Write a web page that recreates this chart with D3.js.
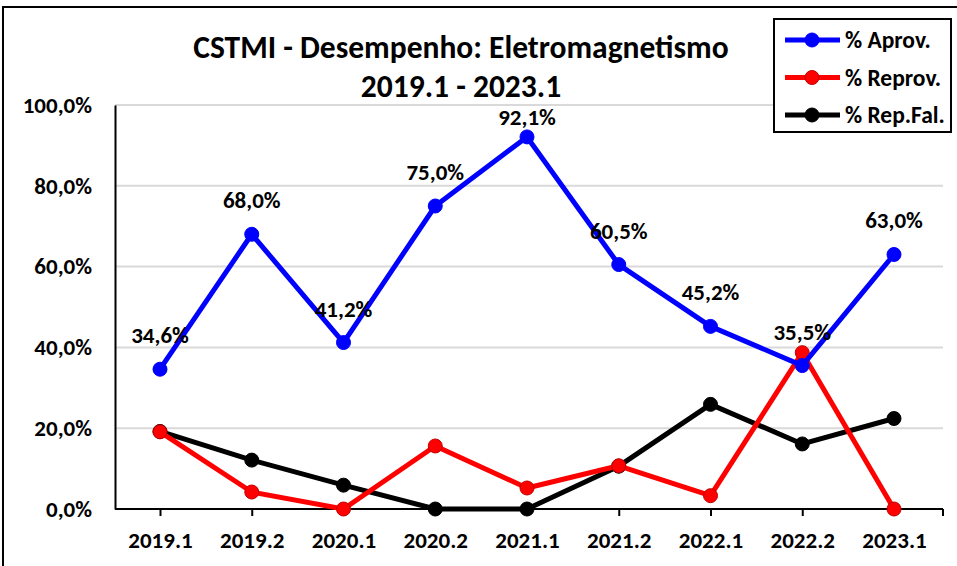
<!DOCTYPE html>
<html><head><meta charset="utf-8">
<script src="https://cdn.jsdelivr.net/npm/d3@7"></script>
<style>
body{margin:0;background:#fff;}
text{font-family:Carlito,Calibri,"Open Sans",Lato,sans-serif;font-weight:bold;}
</style></head>
<body>
<svg id="c" width="957" height="566"></svg>
<script>
const categories = ["2019.1","2019.2","2020.1","2020.2","2021.1","2021.2","2022.1","2022.2","2023.1"];
const aprov  = [34.6, 68.0, 41.2, 75.0, 92.1, 60.5, 45.2, 35.5, 63.0];
const reprov = [19.1, 4.2, 0.0, 15.6, 5.2, 10.7, 3.3, 38.7, 0.0];
const repfal = [19.2, 12.1, 5.9, 0.0, 0.0, 10.6, 25.9, 16.1, 22.4];
const yTicks = [0, 20, 40, 60, 80, 100];
const seriesNames = ["% Aprov.", "% Reprov.", "% Rep.Fal."];
const seriesColors = ["#0000ff", "#ff0000", "#000000"];
const titleLines = ["CSTMI - Desempenho: Eletromagnetismo", "2019.1 - 2023.1"];

(function(){
const svg = d3.select("#c");
const FF = "Carlito,Calibri,'Open Sans',Lato,sans-serif";
const fmt = v => d3.format(".1f")(v).replace(".", ",") + "%";

svg.append("rect").attr("x",3).attr("y",7).attr("width",1000).attr("height",600)
  .attr("fill","none").attr("stroke","#000").attr("stroke-width",2);

const pLeft = 115, pRight = 943, pTop = 105, pBottom = 509;
const x = d3.scalePoint().domain(categories).range([160, 894]);
const y = d3.scaleLinear().domain([0,100]).range([pBottom, pTop]);

svg.append("g").selectAll("line").data(yTicks.filter(d=>d>0)).join("line")
  .attr("x1",pLeft).attr("x2",pRight).attr("y1",d=>y(d)).attr("y2",d=>y(d))
  .attr("stroke","#d9d9d9").attr("stroke-width",2);

const yAxis = d3.axisLeft(y).tickValues(yTicks).tickFormat(fmt).tickSize(0).tickPadding(23);
const gy = svg.append("g").attr("transform",`translate(${pLeft},0)`).call(yAxis);
gy.select(".domain").attr("stroke","#000").attr("stroke-width",2);
gy.selectAll("text").attr("font-size",23).attr("fill","#000").attr("font-family",FF);

const xAxis = d3.axisBottom(x).tickSize(7).tickPadding(16);
const gx = svg.append("g").attr("transform",`translate(0,${pBottom})`).call(xAxis);
gx.select(".domain").remove();
gx.append("line").attr("x1",pLeft).attr("x2",pRight).attr("stroke","#000").attr("stroke-width",2);
gx.append("line").attr("x1",pRight).attr("x2",pRight).attr("y2",7).attr("stroke","#000").attr("stroke-width",2);
gx.selectAll(".tick line").attr("stroke","#000").attr("stroke-width",2);
gx.selectAll("text").attr("font-size",23).attr("fill","#000").attr("font-family",FF);

const allSeries = [aprov, reprov, repfal];
const line = d3.line().x((d,i)=>x(categories[i])).y(d=>y(d));
[2,1,0].forEach(k => {
  const data = allSeries[k];
  svg.append("path").datum(data).attr("d",line).attr("fill","none")
    .attr("stroke",seriesColors[k]).attr("stroke-width",5).attr("stroke-linejoin","round");
  svg.append("g").selectAll("circle").data(data).join("circle")
    .attr("cx",(d,i)=>x(categories[i])).attr("cy",d=>y(d)).attr("r",7)
    .attr("fill",seriesColors[k]).attr("stroke", k===1 ? "#c00000" : seriesColors[k]).attr("stroke-width",1);
});

svg.append("g").selectAll("text").data(aprov).join("text")
  .attr("x",(d,i)=>x(categories[i])).attr("y",d=>Math.max(y(d)-26, 125))
  .attr("text-anchor","middle").attr("font-size",23).attr("fill","#000")
  .text(fmt);

svg.append("g").selectAll("text").data(titleLines).join("text")
  .attr("x",461).attr("y",(d,i)=>58+i*39).attr("text-anchor","middle")
  .attr("font-size",31.5).attr("fill","#000").text(d=>d);

const lg = svg.append("g");
lg.append("rect").attr("x",774).attr("y",19).attr("width",177).attr("height",113)
  .attr("fill","#fff").attr("stroke","#000").attr("stroke-width",2);
seriesNames.forEach((n,i)=>{
  const yy = 40 + i*37.5;
  lg.append("line").attr("x1",785).attr("x2",840).attr("y1",yy).attr("y2",yy)
    .attr("stroke",seriesColors[i]).attr("stroke-width",5);
  lg.append("circle").attr("cx",812).attr("cy",yy).attr("r",7).attr("fill",seriesColors[i])
    .attr("stroke", i===1 ? "#c00000" : seriesColors[i]);
  lg.append("text").attr("x",845).attr("y",yy+8).attr("font-size",23.5).attr("fill","#000").text(n);
});
})();
</script>
</body></html>
